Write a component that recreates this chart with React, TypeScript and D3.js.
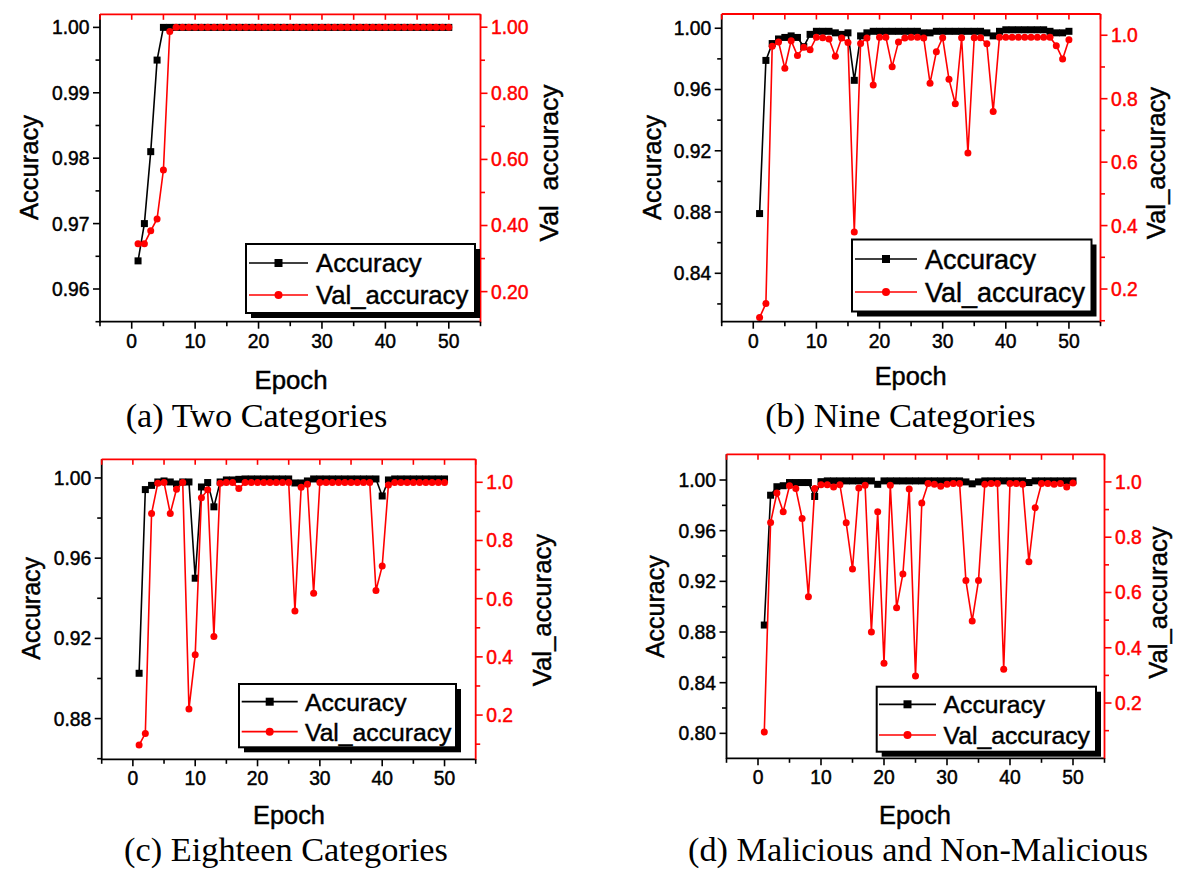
import React from 'react';
import * as d3 from 'd3';

// epochs shared by all four panels
const epochs = [
    1, 2, 3, 4, 5, 6, 7, 8, 9, 10, 11, 12, 13, 14, 15, 16, 17, 18, 19, 20, 21, 22, 23, 24, 25,
    26, 27, 28, 29, 30, 31, 32, 33, 34, 35, 36, 37, 38, 39, 40, 41, 42, 43, 44, 45, 46, 47, 48, 49, 50
];

// (a) Two Categories
const accTwo = [
    0.9643, 0.970, 0.981, 0.995, 1.0, 1.0, 1.0, 1.0, 1.0, 1.0, 1.0, 1.0, 1.0, 1.0, 1.0, 1.0, 1.0, 1.0, 1.0, 1.0, 1.0, 1.0, 1.0, 1.0, 1.0,
    1.0, 1.0, 1.0, 1.0, 1.0, 1.0, 1.0, 1.0, 1.0, 1.0, 1.0, 1.0, 1.0, 1.0, 1.0, 1.0, 1.0, 1.0, 1.0, 1.0, 1.0, 1.0, 1.0, 1.0, 1.0
];
const valTwo = [
    0.345, 0.345, 0.384, 0.42, 0.568, 0.987, 1.0, 1.0, 1.0, 1.0, 1.0, 1.0, 1.0, 1.0, 1.0, 1.0, 1.0, 1.0, 1.0, 1.0, 1.0, 1.0, 1.0, 1.0, 1.0,
    1.0, 1.0, 1.0, 1.0, 1.0, 1.0, 1.0, 1.0, 1.0, 1.0, 1.0, 1.0, 1.0, 1.0, 1.0, 1.0, 1.0, 1.0, 1.0, 1.0, 1.0, 1.0, 1.0, 1.0, 1.0
];

// (b) Nine Categories
const accNine = [
    0.879, 0.979, 0.990, 0.993, 0.994, 0.995, 0.994, 0.988, 0.996, 0.998, 0.998, 0.998, 0.997, 0.996, 0.997, 0.966, 0.995, 0.997, 0.998, 0.998, 0.998, 0.998, 0.998, 0.998, 0.998,
    0.998, 0.997, 0.997, 0.998, 0.998, 0.998, 0.998, 0.998, 0.998, 0.998, 0.998, 0.997, 0.995, 0.998, 0.999, 0.999, 0.999, 0.999, 0.999, 0.999, 0.999, 0.998, 0.997, 0.997, 0.998
];
const valNine = [
    0.110, 0.154, 0.965, 0.979, 0.896, 0.983, 0.936, 0.962, 0.954, 0.994, 0.992, 0.988, 0.934, 0.991, 0.977, 0.380, 0.974, 0.991, 0.843, 0.994, 0.994, 0.901, 0.979, 0.991, 0.994,
    0.994, 0.991, 0.849, 0.948, 0.992, 0.861, 0.784, 0.992, 0.629, 0.992, 0.992, 0.973, 0.760, 0.994, 0.994, 0.994, 0.994, 0.994, 0.994, 0.994, 0.994, 0.994, 0.967, 0.925, 0.986
];

// (c) Eighteen Categories
const accEighteen = [
    0.9026, 0.9942, 0.9963, 0.998, 0.9985, 0.998, 0.997, 0.998, 0.998, 0.950, 0.9955, 0.9977, 0.9856, 0.998, 0.999, 0.999, 0.9993, 0.9995, 0.9995, 0.9995, 0.9995, 0.9995, 0.9995, 0.9995, 0.9995,
    0.9975, 0.9975, 0.9985, 0.9995, 0.9995, 0.9995, 0.9995, 0.9995, 0.9995, 0.9995, 0.9995, 0.9995, 0.9995, 0.9995, 0.991, 0.999, 0.9995, 0.9995, 0.9995, 0.9995, 0.9995, 0.9995, 0.9995, 0.9995, 0.9995
];
const valEighteen = [
    0.097, 0.137, 0.893, 0.997, 0.999, 0.893, 0.976, 0.999, 0.221, 0.407, 0.947, 0.974, 0.470, 0.997, 0.999, 0.999, 0.979, 0.999, 0.999, 0.999, 0.999, 0.999, 0.999, 0.999, 0.999,
    0.558, 0.983, 0.993, 0.619, 0.999, 0.999, 0.999, 0.999, 0.999, 0.999, 0.999, 0.999, 0.999, 0.628, 0.712, 0.991, 0.999, 0.999, 0.999, 0.999, 0.999, 0.999, 0.999, 0.999, 0.999
];

// (d) Malicious and Non-Malicious
const accMalicious = [
    0.8855, 0.988, 0.9947, 0.9955, 0.998, 0.998, 0.998, 0.998, 0.987, 0.9987, 0.9993, 0.9993, 0.9993, 0.9993, 0.9993, 0.9993, 0.9993, 0.9993, 0.9966, 0.9993, 0.9993, 0.9993, 0.9993, 0.9993, 0.9993,
    0.9993, 0.9993, 0.9993, 0.9993, 0.9993, 0.9993, 0.9993, 0.9985, 0.997, 0.9985, 0.9993, 0.9993, 0.9993, 0.9993, 0.9993, 0.9993, 0.9993, 0.998, 0.9993, 0.9993, 0.9993, 0.9993, 0.9993, 0.9993, 0.9993
];
const valMalicious = [
    0.095, 0.853, 0.960, 0.892, 0.986, 0.976, 0.868, 0.585, 0.976, 0.990, 0.990, 0.982, 0.990, 0.852, 0.685, 0.978, 0.988, 0.457, 0.892, 0.344, 0.988, 0.545, 0.667, 0.974, 0.298,
    0.924, 0.994, 0.992, 0.984, 0.992, 0.994, 0.994, 0.643, 0.497, 0.643, 0.992, 0.994, 0.994, 0.3225, 0.994, 0.994, 0.992, 0.711, 0.907, 0.994, 0.994, 0.992, 0.994, 0.982, 0.996
];

// tick values
const xMajor = [0, 10, 20, 30, 40, 50];
const xMinor = [-5, 5, 15, 25, 35, 45, 55];
const rightMajor = [0.2, 0.4, 0.6, 0.8, 1.0];
const rightMinor = [0.1, 0.3, 0.5, 0.7, 0.9];
const leftMajorTwo = [0.96, 0.97, 0.98, 0.99, 1.0];
const leftMinorTwo = [0.955, 0.965, 0.975, 0.985, 0.995];
const leftMajorNine = [0.84, 0.88, 0.92, 0.96, 1.0];
const leftMinorNine = [0.82, 0.86, 0.9, 0.94, 0.98];
const leftMajorEighteen = [0.88, 0.92, 0.96, 1.0];
const leftMinorEighteen = [0.86, 0.9, 0.94, 0.98];
const leftMajorMalicious = [0.8, 0.84, 0.88, 0.92, 0.96, 1.0];
const leftMinorMalicious = [0.82, 0.86, 0.9, 0.94, 0.98];

const captions = [
    '(a) Two Categories',
    '(b) Nine Categories',
    '(c) Eighteen Categories',
    '(d) Malicious and Non-Malicious'
];
const seriesNames = ['Accuracy', 'Val_accuracy'];

const SANS = '"Liberation Sans", Arial, Helvetica, sans-serif';
const SERIF = '"Liberation Serif", "Times New Roman", Times, serif';
const RED = '#f00';
const TICK_FONT = 19.3;
// slight outline so the sans text reads as heavy as the scanned figure
const heavy = (c: string) => ({ stroke: c, strokeWidth: 0.45 });

interface LegendBox {
    x: number; y: number; w: number; h: number;
    line0: number; line1: number; textX: number;
    row1: number; row2: number; font: number;
}

interface PanelSpec {
    left: number; right: number; top: number; bottom: number;
    acc: number[]; val: number[];
    accDomain: [number, number]; valDomain: [number, number];
    leftMajor: number[]; leftMinor: number[];
    leftFmt: (n: number) => string; rightFmt: (n: number) => string;
    legend: LegendBox;
    yTitle: { x: number; y: number; size: number };
    rTitle: { x: number; y: number; size: number; text: string };
    xTitle: { x: number; y: number; size: number };
    caption: { x: number; y: number; text: string };
}

const fmt2 = d3.format('.2f');
const fmt1 = d3.format('.1f');

const panels: PanelSpec[] = [
    {
        left: 100, right: 480.5, top: 14.3, bottom: 321.7,
        acc: accTwo, val: valTwo,
        accDomain: [0.955, 1.002], valDomain: [0.109, 1.039],
        leftMajor: leftMajorTwo, leftMinor: leftMinorTwo,
        leftFmt: fmt2, rightFmt: fmt2,
        legend: { x: 246, y: 244, w: 229, h: 69, line0: 249, line1: 308, textX: 316, row1: 263, row2: 295, font: 25.7 },
        yTitle: { x: 37.5, y: 167.5, size: 25.5 },
        rTitle: { x: 558, y: 163, size: 26.5, text: 'Val  accuracy' },
        xTitle: { x: 291, y: 388.5, size: 25.8 },
        caption: { x: 256.5, y: 427, text: captions[0] }
    },
    {
        left: 721.7, right: 1100.5, top: 14, bottom: 321.7,
        acc: accNine, val: valNine,
        accDomain: [0.8084, 1.0093], valDomain: [0.097, 1.067],
        leftMajor: leftMajorNine, leftMinor: leftMinorNine,
        leftFmt: fmt2, rightFmt: fmt1,
        legend: { x: 852, y: 239.5, w: 239.5, h: 72, line0: 855, line1: 917, textX: 925, row1: 259, row2: 292, font: 27 },
        yTitle: { x: 660.5, y: 167.5, size: 25.5 },
        rTitle: { x: 1165, y: 163, size: 25.7, text: seriesNames[1] },
        xTitle: { x: 910.7, y: 385, size: 25.4 },
        caption: { x: 900.4, y: 427, text: captions[1] }
    },
    {
        left: 101.7, right: 475.7, top: 459.3, bottom: 759.3,
        acc: accEighteen, val: valEighteen,
        accDomain: [0.8597, 1.0093], valDomain: [0.048, 1.079],
        leftMajor: leftMajorEighteen, leftMinor: leftMinorEighteen,
        leftFmt: fmt2, rightFmt: fmt1,
        legend: { x: 239, y: 684, w: 217, h: 63.3, line0: 241.7, line1: 297.7, textX: 305, row1: 701.7, row2: 731.7, font: 24.7 },
        yTitle: { x: 39.5, y: 608.3, size: 25 },
        rTitle: { x: 551, y: 610, size: 25.7, text: seriesNames[1] },
        xTitle: { x: 289, y: 824, size: 25.4 },
        caption: { x: 286, y: 861, text: captions[2] }
    },
    {
        left: 726.5, right: 1104.5, top: 454.3, bottom: 758.3,
        acc: accMalicious, val: valMalicious,
        accDomain: [0.7803, 1.0203], valDomain: [0, 1.1],
        leftMajor: leftMajorMalicious, leftMinor: leftMinorMalicious,
        leftFmt: fmt2, rightFmt: fmt1,
        legend: { x: 876.7, y: 686.7, w: 219.3, h: 65, line0: 879, line1: 936, textX: 943.6, row1: 704.3, row2: 735, font: 24.7 },
        yTitle: { x: 663.5, y: 606.7, size: 25 },
        rTitle: { x: 1167, y: 602.5, size: 25.7, text: seriesNames[1] },
        xTitle: { x: 915, y: 824, size: 25.4 },
        caption: { x: 918, y: 861, text: captions[3] }
    }
];

const SQ = 7;
const DOT = 3.5;

const Panel: React.FC<{ p: PanelSpec }> = ({ p }) => {
    const x = d3.scaleLinear().domain([-5, 55]).range([p.left, p.right]);
    const yL = d3.scaleLinear().domain(p.accDomain).range([p.bottom, p.top]);
    const yR = d3.scaleLinear().domain(p.valDomain).range([p.bottom, p.top]);

    const accLine = d3.line<number>().x((_, i) => x(epochs[i])).y(d => yL(d));
    const valLine = d3.line<number>().x((_, i) => x(epochs[i])).y(d => yR(d));

    const inRight = (v: number) => v >= p.valDomain[0] && v <= p.valDomain[1];
    const inLeft = (v: number) => v >= p.accDomain[0] - 1e-6 && v <= p.accDomain[1];
    const lg = p.legend;
    const midX = (lg.line0 + lg.line1) / 2;

    return (
        <g>
            {/* accuracy series */}
            <path d={accLine(p.acc) ?? ''} fill="none" stroke="#000" strokeWidth={1.6} />
            {p.acc.map((v, i) => (
                <rect key={`a${i}`} x={x(epochs[i]) - SQ / 2} y={yL(v) - SQ / 2} width={SQ} height={SQ} fill="#000" />
            ))}

            {/* validation series */}
            <path d={valLine(p.val) ?? ''} fill="none" stroke={RED} strokeWidth={1.6} />
            {p.val.map((v, i) => (
                <circle key={`v${i}`} cx={x(epochs[i])} cy={yR(v)} r={DOT} fill={RED} />
            ))}

            {/* frame: black left/bottom, red top/right */}
            <line x1={p.left} x2={p.left} y1={p.top} y2={p.bottom + 0.8} stroke="#000" strokeWidth={1.8} />
            <line x1={p.left} x2={p.right} y1={p.bottom} y2={p.bottom} stroke="#000" strokeWidth={1.8} />
            <line x1={p.left} x2={p.right} y1={p.top} y2={p.top} stroke={RED} strokeWidth={1.8} />
            <line x1={p.right} x2={p.right} y1={p.top} y2={p.bottom + 0.8} stroke={RED} strokeWidth={1.8} />

            {/* bottom ticks + labels */}
            {xMajor.map(t => (
                <g key={`xb${t}`}>
                    <line x1={x(t)} x2={x(t)} y1={p.bottom} y2={p.bottom + 7} stroke="#000" strokeWidth={1.6} />
                    <line x1={x(t)} x2={x(t)} y1={p.top} y2={p.top + 5.5} stroke={RED} strokeWidth={1.6} />
                    <text x={x(t)} y={p.bottom + 26} textAnchor="middle" fontFamily={SANS} fontSize={TICK_FONT} fill="#000" {...heavy('#000')}>{t}</text>
                </g>
            ))}
            {xMinor.map(t => (
                <g key={`xm${t}`}>
                    <line x1={x(t)} x2={x(t)} y1={p.bottom} y2={p.bottom + 4.5} stroke="#000" strokeWidth={1.6} />
                    <line x1={x(t)} x2={x(t)} y1={p.top} y2={p.top + 5.5} stroke={RED} strokeWidth={1.6} />
                </g>
            ))}

            {/* left axis */}
            {p.leftMajor.map(t => (
                <g key={`yl${t}`}>
                    <line x1={p.left - 7} x2={p.left} y1={yL(t)} y2={yL(t)} stroke="#000" strokeWidth={1.6} />
                    <text x={p.left - 10.5} y={yL(t)} dy="0.36em" textAnchor="end" fontFamily={SANS} fontSize={TICK_FONT} fill="#000" {...heavy('#000')}>{p.leftFmt(t)}</text>
                </g>
            ))}
            {p.leftMinor.filter(inLeft).map(t => (
                <line key={`ylm${t}`} x1={p.left - 4.5} x2={p.left} y1={yL(t)} y2={yL(t)} stroke="#000" strokeWidth={1.6} />
            ))}

            {/* right axis */}
            {rightMajor.map(t => (
                <g key={`yr${t}`}>
                    <line x1={p.right} x2={p.right + 7} y1={yR(t)} y2={yR(t)} stroke={RED} strokeWidth={1.6} />
                    <text x={p.right + 10.5} y={yR(t)} dy="0.36em" textAnchor="start" fontFamily={SANS} fontSize={TICK_FONT} fill={RED} {...heavy(RED)}>{p.rightFmt(t)}</text>
                </g>
            ))}
            {rightMinor.filter(inRight).map(t => (
                <line key={`yrm${t}`} x1={p.right} x2={p.right + 4.5} y1={yR(t)} y2={yR(t)} stroke={RED} strokeWidth={1.6} />
            ))}

            {/* legend with drop shadow */}
            <rect x={lg.x + 5} y={lg.y + 5} width={lg.w} height={lg.h} fill="#000" />
            <rect x={lg.x} y={lg.y} width={lg.w} height={lg.h} fill="#fff" stroke="#000" strokeWidth={2} />
            <line x1={lg.line0} x2={lg.line1} y1={lg.row1} y2={lg.row1} stroke="#000" strokeWidth={1.7} />
            <rect x={midX - 4} y={lg.row1 - 4} width={8} height={8} fill="#000" />
            <text x={lg.textX} y={lg.row1} dy="0.36em" fontFamily={SANS} fontSize={lg.font} fill="#000" {...heavy('#000')}>{seriesNames[0]}</text>
            <line x1={lg.line0} x2={lg.line1} y1={lg.row2} y2={lg.row2} stroke={RED} strokeWidth={1.7} />
            <circle cx={midX} cy={lg.row2} r={4} fill={RED} />
            <text x={lg.textX} y={lg.row2} dy="0.36em" fontFamily={SANS} fontSize={lg.font} fill="#000" {...heavy('#000')}>{seriesNames[1]}</text>

            {/* titles */}
            <text transform={`translate(${p.yTitle.x},${p.yTitle.y}) rotate(-90)`} textAnchor="middle"
                fontFamily={SANS} fontSize={p.yTitle.size} fill="#000" {...heavy('#000')}>Accuracy</text>
            <text transform={`translate(${p.rTitle.x},${p.rTitle.y}) rotate(-90)`} textAnchor="middle"
                fontFamily={SANS} fontSize={p.rTitle.size} fill="#000" {...heavy('#000')} style={{ whiteSpace: 'pre' }}>{p.rTitle.text}</text>
            <text x={p.xTitle.x} y={p.xTitle.y} textAnchor="middle" fontFamily={SANS} fontSize={p.xTitle.size} fill="#000" {...heavy('#000')}>Epoch</text>
            <text x={p.caption.x} y={p.caption.y} textAnchor="middle" fontFamily={SERIF} fontSize={34.3} fill="#000">{p.caption.text}</text>
        </g>
    );
};

const App: React.FC = () => (
    <svg width={1181} height={869} viewBox="0 0 1181 869"
        style={{ position: 'absolute', left: 0, top: 0, display: 'block', background: '#fff' }}>
        <rect x={0} y={0} width={1181} height={869} fill="#fff" />
        {panels.map((p, i) => <Panel key={i} p={p} />)}
    </svg>
);

export default App;
